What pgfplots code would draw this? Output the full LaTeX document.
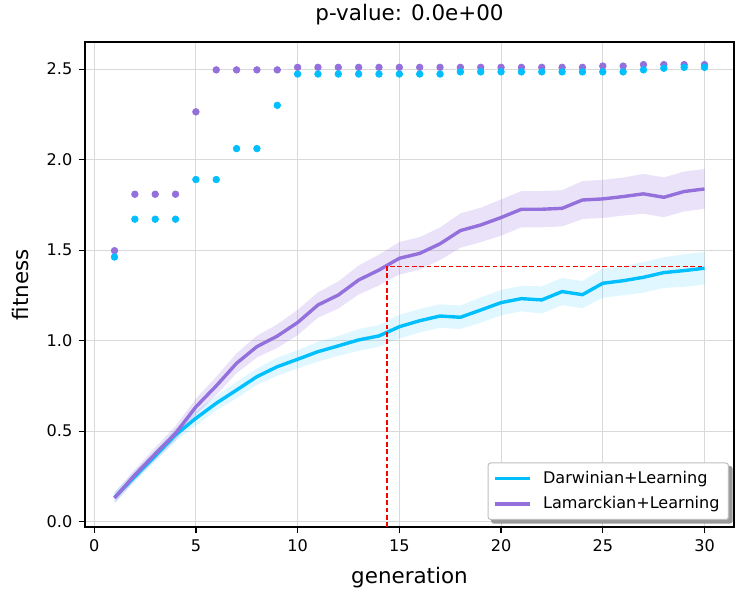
\documentclass[border=0pt]{standalone}
\usepackage{fontspec}
\setmainfont{DejaVu Sans}
\usepackage{pgfplots}
\usepackage{pgfplotstable}
\pgfplotsset{compat=1.18}
\usepgfplotslibrary{fillbetween}
\definecolor{dsb}{RGB}{0,191,255}
\definecolor{mpur}{RGB}{147,112,219}

\pgfplotstableread{
x dm dl du lm ll lu
1 0.133 0.103 0.163 0.130 0.100 0.160
2 0.249 0.219 0.279 0.258 0.228 0.288
3 0.363 0.333 0.393 0.374 0.339 0.409
4 0.479 0.444 0.514 0.488 0.448 0.528
5 0.571 0.531 0.611 0.634 0.589 0.679
6 0.654 0.614 0.694 0.750 0.700 0.800
7 0.727 0.682 0.772 0.875 0.820 0.930
8 0.801 0.756 0.846 0.967 0.907 1.027
9 0.856 0.806 0.906 1.025 0.960 1.090
10 0.897 0.847 0.947 1.100 1.030 1.170
11 0.939 0.884 0.994 1.197 1.127 1.267
12 0.971 0.916 1.026 1.252 1.177 1.327
13 1.004 0.944 1.064 1.335 1.255 1.415
14 1.026 0.966 1.086 1.390 1.305 1.475
15 1.077 1.012 1.142 1.455 1.365 1.545
16 1.110 1.045 1.175 1.482 1.392 1.572
17 1.136 1.071 1.201 1.535 1.445 1.625
18 1.129 1.064 1.194 1.608 1.513 1.703
19 1.169 1.099 1.239 1.639 1.544 1.734
20 1.210 1.140 1.280 1.680 1.580 1.780
21 1.232 1.162 1.302 1.726 1.626 1.826
22 1.225 1.150 1.300 1.726 1.626 1.826
23 1.271 1.196 1.346 1.731 1.631 1.831
24 1.254 1.179 1.329 1.777 1.672 1.882
25 1.317 1.237 1.397 1.783 1.678 1.888
26 1.331 1.251 1.411 1.796 1.691 1.901
27 1.350 1.265 1.435 1.811 1.701 1.921
28 1.376 1.291 1.461 1.792 1.682 1.902
29 1.387 1.297 1.477 1.824 1.714 1.934
30 1.400 1.310 1.490 1.838 1.728 1.948
}\means

\pgfplotstableread{
x d l
1 1.462 1.497
2 1.671 1.809
3 1.671 1.809
4 1.671 1.809
5 1.890 2.264
6 1.890 2.496
7 2.061 2.496
8 2.061 2.496
9 2.300 2.496
10 2.473 2.510
11 2.473 2.510
12 2.473 2.510
13 2.473 2.510
14 2.473 2.510
15 2.473 2.510
16 2.473 2.510
17 2.473 2.510
18 2.485 2.510
19 2.485 2.510
20 2.485 2.510
21 2.485 2.510
22 2.485 2.510
23 2.485 2.510
24 2.485 2.510
25 2.485 2.517
26 2.485 2.517
27 2.496 2.525
28 2.505 2.525
29 2.510 2.525
30 2.510 2.525
}\best

\begin{document}
\begin{tikzpicture}
\begin{axis}[
  scale only axis,
  width=363.4pt, height=271.6pt,
  xmin=-0.45, xmax=31.45, ymin=-0.03, ymax=2.65,
  xtick={0,5,10,15,20,25,30},
  ytick={0,0.5,1,1.5,2,2.5},
  /pgf/number format/assume math mode=true,
  yticklabel style={/pgf/number format/.cd, fixed, fixed zerofill, precision=1},
  ticklabel style={font=\fontsize{9}{11}\selectfont},
  tick align=outside, tick pos=left, major tick length=3.6pt,
  tick style={black, line width=0.7pt},
  axis line style={line width=0.7pt},
  grid=major, major grid style={black!15, line width=0.6pt},
  title={p-value: 0.0e+00},
  title style={at={(axis description cs:0.5,1.0227)}, anchor=base, font=\fontsize{12}{14}\selectfont},
  xlabel={generation},
  xlabel style={at={(axis description cs:0.5,-0.1155)}, anchor=base, font=\fontsize{12}{14}\selectfont},
  ylabel={fitness},
  ylabel style={at={(axis description cs:-0.0878,0.5)}, anchor=base, font=\fontsize{12}{14}\selectfont},
  legend style={at={(axis description cs:0.9923,0.0144)}, anchor=south east,
    name=leg,
    draw=black!25, line width=0.6pt, rounded corners=1.5pt, fill=white,
    font=\fontsize{9}{11}\selectfont, inner xsep=3pt, inner ysep=2.5pt, row sep=2pt,
    /tikz/every odd column/.append style={column sep=4.5pt}},
  legend cell align=left,
  legend image code/.code={\draw[#1] (0pt,0pt) -- (19.4pt,0pt);},
]
% Darwinian band
\addplot[name path=dU, draw=none, forget plot] table[x=x, y=du] {\means};
\addplot[name path=dL, draw=none, forget plot] table[x=x, y=dl] {\means};
\addplot[dsb, fill opacity=0.12, draw=none, forget plot] fill between[of=dU and dL];
% Lamarckian band
\addplot[name path=lU, draw=none, forget plot] table[x=x, y=lu] {\means};
\addplot[name path=lL, draw=none, forget plot] table[x=x, y=ll] {\means};
\addplot[mpur, fill opacity=0.2, draw=none, forget plot] fill between[of=lU and lL];
% means
\addplot[dsb, line width=1.9pt, no marks] table[x=x, y=dm] {\means};
\addlegendentry{Darwinian+Learning}
\addplot[mpur, line width=1.9pt, no marks] table[x=x, y=lm] {\means};
\addlegendentry{Lamarckian+Learning}
% best-of-generation dots
\addplot[only marks, mark=*, mark size=1.85pt, color=mpur, mark options={draw=none, fill=mpur}, forget plot] table[x=x, y=l] {\best};
\addplot[only marks, mark=*, mark size=1.85pt, color=dsb, mark options={draw=none, fill=dsb}, forget plot] table[x=x, y=d] {\best};
% red dashed guide
\addplot[red, line width=1pt, dash pattern=on 2.6pt off 1.5pt, forget plot] coordinates {(14.4,-0.03) (14.4,1.41) (30,1.41)};
\end{axis}
\begin{pgfonlayer}{pre main}
\fill[black!40, rounded corners=1.5pt] ([xshift=2pt,yshift=-2pt]leg.south west) rectangle ([xshift=2pt,yshift=-2pt]leg.north east);
\end{pgfonlayer}
\pgfresetboundingbox
\path ([xshift=-47.6pt,yshift=-41.44pt]current axis.south west) rectangle ([xshift=7.84pt,yshift=23.52pt]current axis.north east);
\end{tikzpicture}
\end{document}
